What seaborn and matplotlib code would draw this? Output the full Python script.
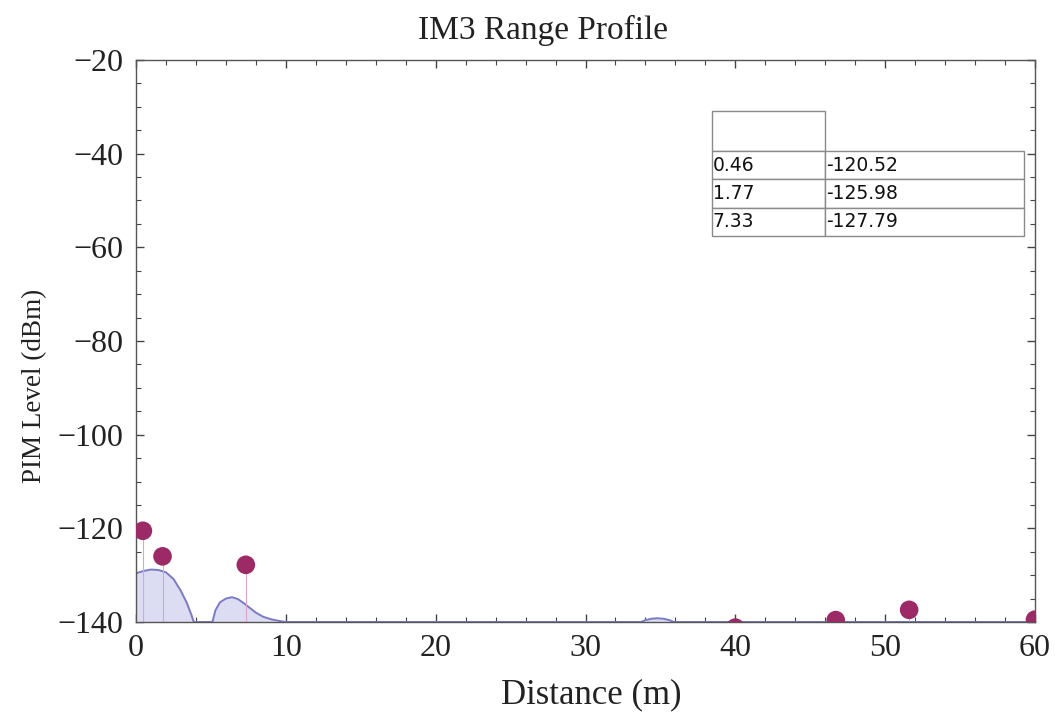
import numpy as np
import pandas as pd
import matplotlib
matplotlib.use("Agg")
import matplotlib.pyplot as plt
from matplotlib.ticker import MultipleLocator
import seaborn as sns

# peaks (distance m, level dBm)
peak_dist = [0.46, 1.77, 7.33, 40.0, 46.7, 51.6, 60.0]
peak_level = [-120.52, -125.98, -127.79, -141.2, -139.6, -137.4, -139.5]

# envelope
env_dist = [0.0, 0.5, 1.0, 1.5, 2.0, 2.5, 3.0, 3.4, 3.7, 3.85,
            5.1, 5.3, 5.6, 6.0, 6.4, 6.8, 7.2, 7.6, 8.0, 8.5, 9.0, 9.6, 10.0,
            33.7, 34.0, 34.4, 34.8, 35.2, 35.6, 35.9, 60.0]
env_level = [-129.6, -129.1, -128.8, -128.9, -129.4, -130.8, -133.4, -136.0, -138.5, -140.0,
             -140.0, -137.5, -135.8, -135.0, -134.7, -135.1, -136.0, -137.0, -138.0, -138.9, -139.4, -139.8, -140.0,
             -140.0, -139.6, -139.3, -139.2, -139.3, -139.6, -140.0, -140.0]

table_dist = ["0.46", "1.77", "7.33"]
table_level = ["-120.52", "-125.98", "-127.79"]

sns.set_style("white")
plt.rcParams["font.family"] = ["Liberation Serif", "DejaVu Serif"]

fig = plt.figure(figsize=(10.55, 7.15), dpi=100)
ax = fig.add_axes([136 / 1055, 1 - 622 / 715, 899 / 1055, 562 / 715])

env = pd.DataFrame({"d": env_dist, "v": env_level})
ax.fill_between(env["d"], -140, env["v"], color="#dcdcf2", zorder=1)
sns.lineplot(data=env, x="d", y="v", sort=False, estimator=None, color="#7b7bc6", lw=1.4, ax=ax, zorder=2)

ax.vlines(peak_dist, -140, peak_level, color="#d9a8c4", lw=0.8, zorder=2)
pk = pd.DataFrame({"d": peak_dist, "v": peak_level})
sns.scatterplot(data=pk, x="d", y="v", s=180, color="#9c2a67", edgecolor="none", ax=ax, zorder=3)

ax.set_xlim(0, 60)
ax.set_ylim(-140, -20)
ax.xaxis.set_major_locator(MultipleLocator(10))
ax.xaxis.set_minor_locator(MultipleLocator(2))
ax.yaxis.set_major_locator(MultipleLocator(20))
ax.yaxis.set_minor_locator(MultipleLocator(5))
ax.tick_params(which="both", direction="in", top=True, right=True, bottom=True, left=True, color="#444444")
ax.tick_params(which="major", length=6, width=1, labelsize=23, labelcolor="#222222")
ax.tick_params(which="minor", length=3.5, width=0.8)
ax.tick_params(axis="x", pad=9)
ax.tick_params(axis="y", pad=9)
for s in ax.spines.values():
    s.set_color("#555555")
    s.set_linewidth(1.0)
ax.set_yticks([-140, -120, -100, -80, -60, -40, -20])
ax.set_yticklabels(["\u2212140", "\u2212120", "\u2212100", "\u221280", "\u221260", "\u221240", "\u221220"])

ax.set_xlabel("Distance (m)", fontsize=25, color="#222222")
ax.set_ylabel("PIM Level (dBm)", fontsize=19.5, color="#222222")
ax.xaxis.set_label_coords(0.506, -0.1)
ax.yaxis.set_label_coords(-0.099, 0.42)
ax.set_title("IM3 Range Profile", fontsize=24, color="#222222", x=0.453, y=1.0, pad=15)

# table in the upper right
def cell_table(text, bbox, widths):
    t = ax.table(cellText=text, bbox=bbox, colWidths=widths, cellLoc="left")
    t.auto_set_font_size(False)
    for c in t.get_celld().values():
        c.set_edgecolor("#8a8a8a")
        c.set_linewidth(1.0)
        c.PAD = 0.005
        c.get_text().set_fontfamily("DejaVu Sans")
        c.get_text().set_fontsize(13.5)
        c.get_text().set_color("#111111")
    return t

x0 = (712 - 136) / 899
x1 = (825 - 136) / 899
x2 = (1024 - 136) / 899
def yax(p):
    return 1 - (p - 60) / 562

cell_table([[""]], [x0, yax(151), x1 - x0, yax(111) - yax(151)], [1.0])
rows = [[a, b] for a, b in zip(table_dist, table_level)]
cell_table(rows, [x0, yax(236), x2 - x0, yax(151) - yax(236)], [x1 - x0, x2 - x1])

fig.savefig("out.png", dpi=100)
